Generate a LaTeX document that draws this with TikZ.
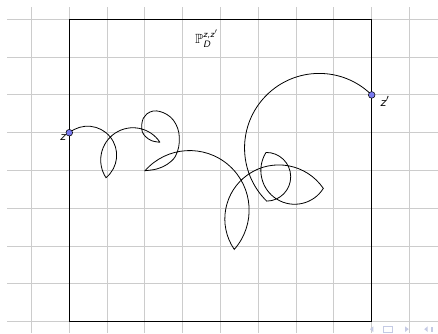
\documentclass[tikz,border=0pt]{standalone}
\usepackage{amsmath,amssymb}
\definecolor{dotblue}{RGB}{122,122,240}
\definecolor{navcol}{RGB}{196,202,228}
\newcommand{\sfit}[1]{\text{\sffamily\itshape #1}}
\begin{document}
\begin{tikzpicture}[pt/.style={circle,draw=black,fill=dotblue,inner sep=0pt,minimum size=5pt,line width=.4pt},
gridline/.style={gray!40,line width=.8pt}]
\useasboundingbox (-1.833,-0.299) rectangle (9.754,8.511);
\foreach \y in {0,...,8} \draw[gridline](-1.64,\y)--(9.754,\y);
\foreach \x in {-1,...,9} \draw[gridline](\x,-0.299)--(\x,8.317);
\draw[line width=.8pt](0,0) rectangle (8,8);
\coordinate (z) at (0,5);
\coordinate (zp) at (8,6);
\draw[line width=.6pt](z) arc [start angle=129.2, end angle=-50.8, radius=.768]
 arc [start angle=213.2, end angle=33.2, radius=.854]
 -- plot[smooth,tension=.6] coordinates{(2.399,4.746)(2.180,4.788)(2.021,4.894)(1.931,5.026)(1.915,5.204)(1.958,5.381)(2.048,5.495)(2.214,5.574)(2.399,5.561)(2.585,5.481)(2.751,5.336)(2.868,5.116)(2.910,4.886)(2.894,4.622)(2.796,4.357)(2.585,4.159)(2.312,4.040)(2.003,3.995)}
 arc [start angle=138.6, end angle=-41.4, radius=1.574]
 arc [start angle=214.4, end angle=34.4, radius=1.428]
 arc [start angle=-32.1, end angle=-212.1, radius=.895]
 arc [start angle=90.8, end angle=-89.2, radius=.644]
 arc [start angle=225.3, end angle=45.3, radius=1.975];
\node[pt] (zdot) at (z) {};
\node[pt] (zpdot) at (zp) {};
\node (zlab) at (-0.17,4.87) {$\sfit{z}$};
\node (zplab) at (8.35,5.82) {$\sfit{z}'$};
\node (law) at (3.64,7.49) {$\mathbb{P}^{\sfit{z,z}'}_{\sfit{D}}$};
% navigation symbols
\fill[navcol](8.042,-0.122)--(8.042,-0.272)--(7.955,-0.197)--cycle;
\draw[navcol,line width=.6pt](8.307,-0.13) rectangle (8.556,-0.27);
\fill[navcol](8.881,-0.122)--(8.881,-0.272)--(8.98,-0.197)--cycle;
\fill[navcol](9.481,-0.122)--(9.481,-0.272)--(9.39,-0.197)--cycle;
\fill[navcol](9.57,-0.13) rectangle (9.62,-0.27);
\end{tikzpicture}
\end{document}
